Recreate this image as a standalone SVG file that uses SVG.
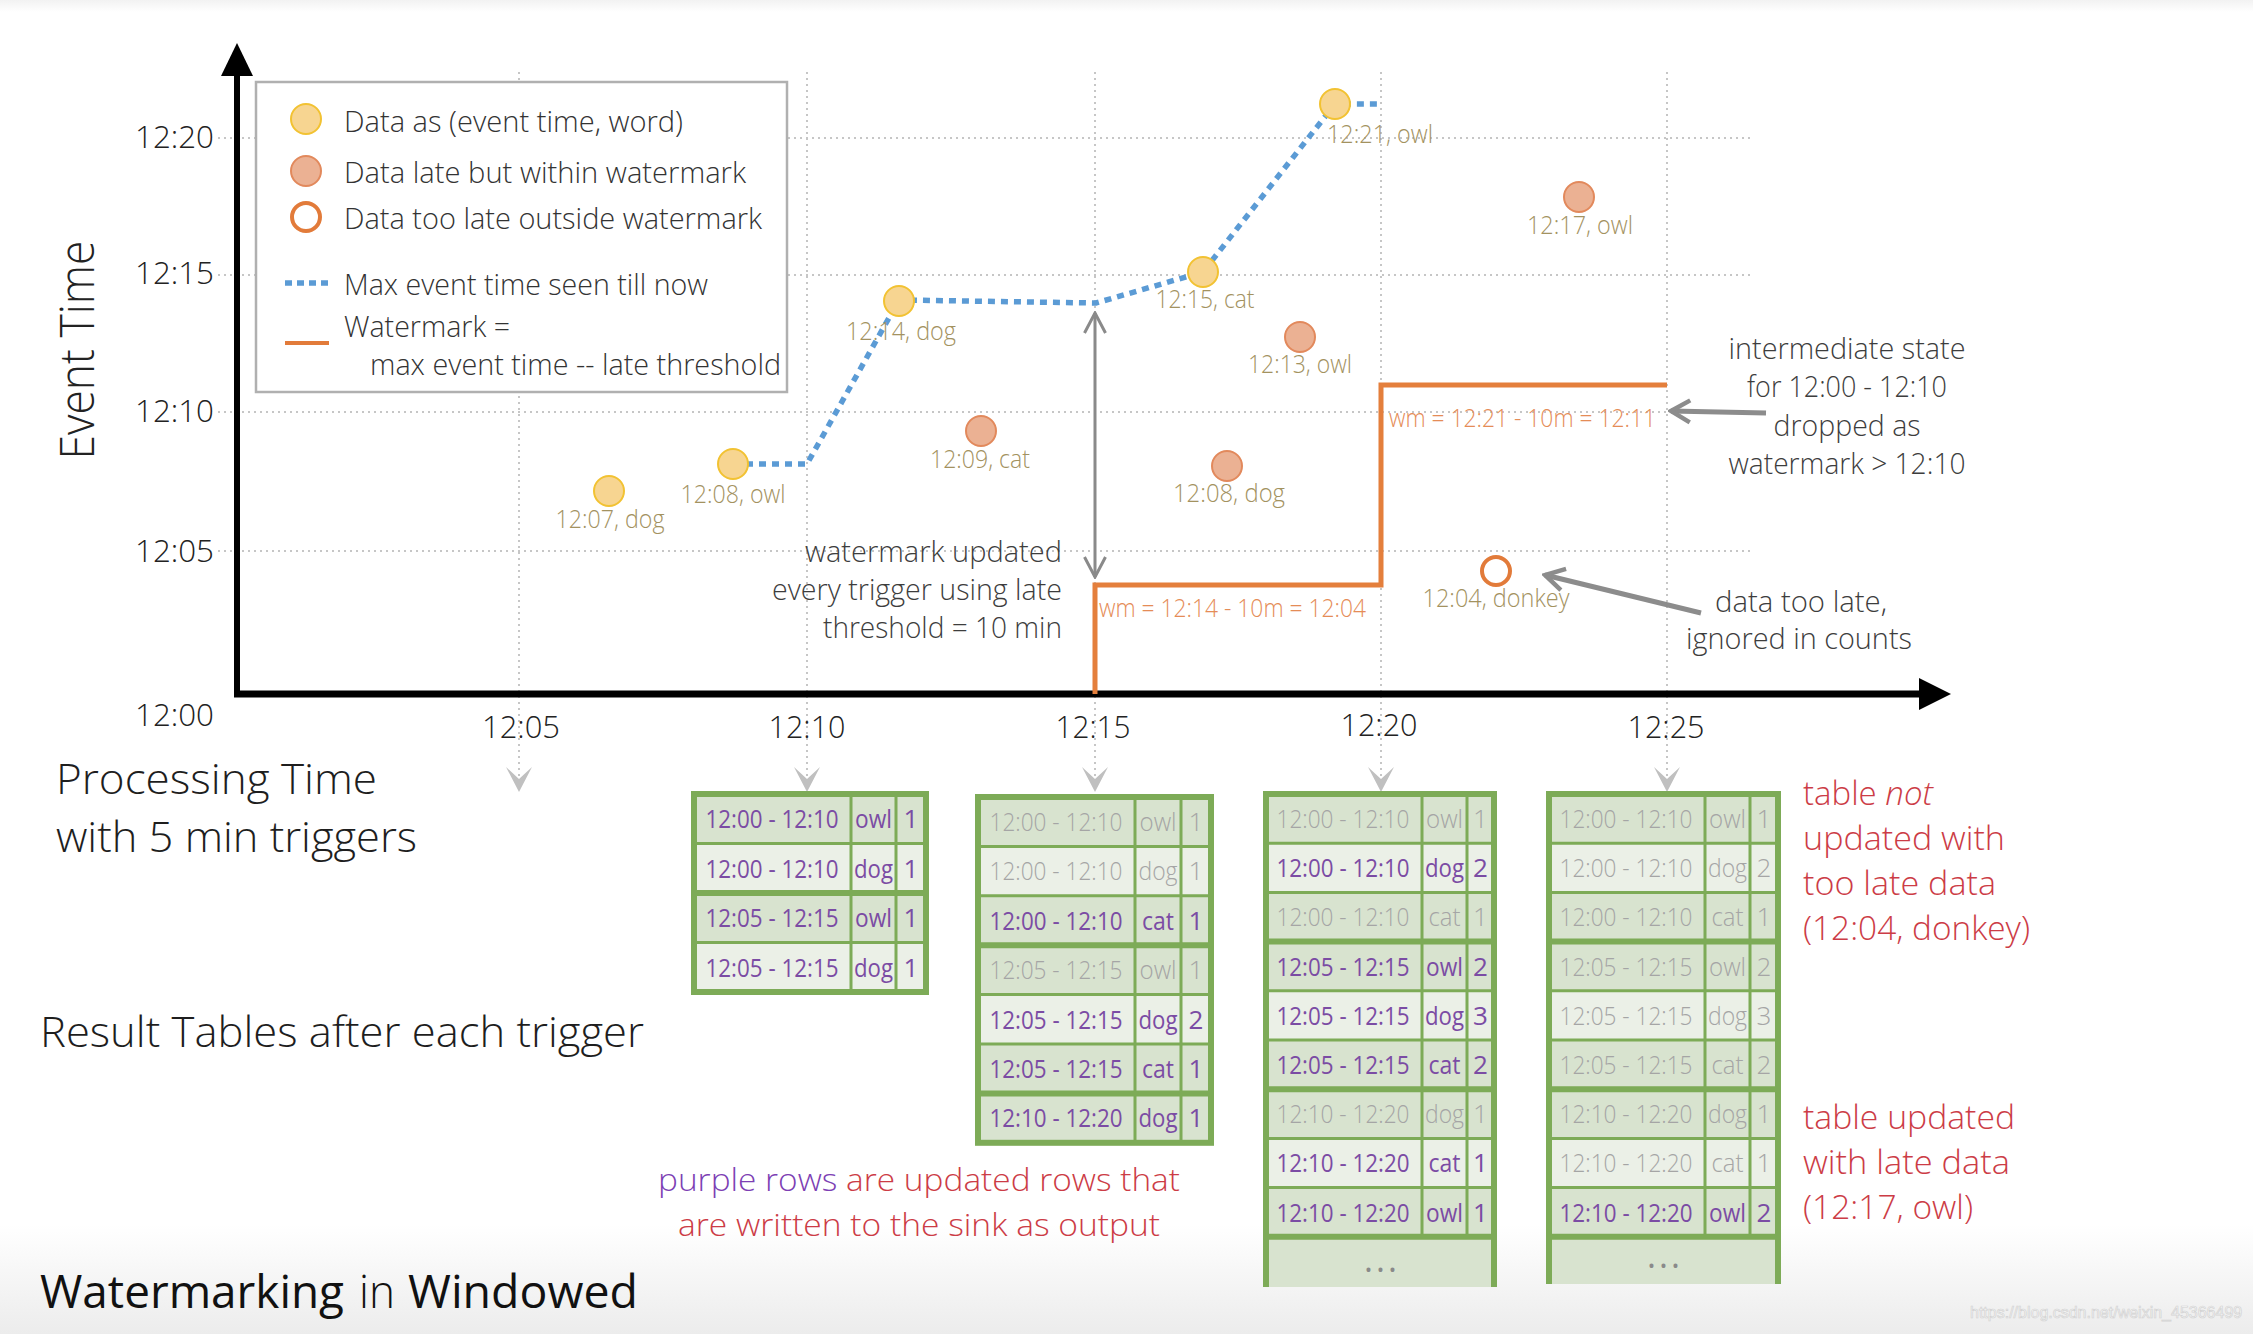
<svg xmlns="http://www.w3.org/2000/svg" width="2253" height="1334" viewBox="0 0 2253 1334">
<style>
text { font-family: 'Open Sans','Noto Sans','DejaVu Sans',sans-serif; font-weight:300; }
.ax { font-size:32px; fill:#222; }
.lg { font-size:30px; fill:#333; }
.dl { font-size:25px; fill:#a3925f; text-anchor:middle; }
.wm { font-size:25px; fill:#e58c57; }
.an { font-size:30px; fill:#3d3d3d; }
.big { font-size:43px; fill:#1e1e1e; }
.red { font-size:33px; fill:#cc3c46; }
.tp { font-size:26px; fill:#7b4ca4; font-weight:400; text-anchor:middle; }
.tg { font-size:26px; fill:#a5a5a5; font-weight:300; text-anchor:middle; }
.c { text-anchor:middle; }
.e { text-anchor:end; }
.dots { font-size:34px; fill:#8a8a8a; text-anchor:middle; letter-spacing:3px; font-weight:400; }
.grid { stroke:#c6c6c6; stroke-width:2; stroke-dasharray:2 4; fill:none; }
.yel { fill:#f7d591; stroke:#f2c232; stroke-width:2; }
.sal { fill:#ebb193; stroke:#e2895c; stroke-width:2; }
.ring { fill:#fff; stroke:#e27b3a; stroke-width:4; }
.rd { fill:#d8e3cf; }
.rl { fill:#ebf0e7; }
.ln { stroke:#7dab57; stroke-width:3; fill:none; }
.lnb { stroke:#7dab57; stroke-width:6; fill:none; }
</style>
<defs>
  <linearGradient id="foot" x1="0" y1="0" x2="0" y2="1">
    <stop offset="0" stop-color="#ffffff"/>
    <stop offset="1" stop-color="#ececec"/>
  </linearGradient>
  <linearGradient id="head" x1="0" y1="0" x2="0" y2="1">
    <stop offset="0" stop-color="#f2f2f2"/>
    <stop offset="1" stop-color="#ffffff"/>
  </linearGradient>
  <path id="garrow" d="M-13,-25 L0,-13 L13,-25 L0,0 Z" fill="#c0c0c0"/>
  <marker id="chevS" viewBox="0 0 24 24" refX="22" refY="12" markerWidth="24" markerHeight="24" markerUnits="userSpaceOnUse" orient="auto-start-reverse">
    <path d="M2,1.5 L22,12 L2,22.5" fill="none" stroke="#8a8a8a" stroke-width="3"/>
  </marker>
  <marker id="chevB" viewBox="0 0 26 28" refX="23" refY="14" markerWidth="26" markerHeight="28" markerUnits="userSpaceOnUse" orient="auto">
    <path d="M4,3 L23,14 L4,25" fill="none" stroke="#8c8c8c" stroke-width="4.5"/>
  </marker>
</defs>

<rect x="0" y="0" width="2253" height="1334" fill="#fff"/>
<rect x="0" y="0" width="2253" height="12" fill="url(#head)"/>
<rect x="0" y="1225" width="2253" height="109" fill="url(#foot)"/>

<!-- grid -->
<g id="grid">
  <path class="grid" d="M218,138 H1752 M218,275 H1752 M218,412 H1752 M218,551 H1752"/>
  <path class="grid" d="M519,72 V786 M807,72 V786 M1095,72 V786 M1381,72 V786 M1667,72 V786"/>
  <use href="#garrow" x="519" y="792"/>
  <use href="#garrow" x="807" y="792"/>
  <use href="#garrow" x="1095" y="792"/>
  <use href="#garrow" x="1381" y="792"/>
  <use href="#garrow" x="1667" y="792"/>
</g>

<!-- axes -->
<g id="axes">
  <line x1="237" y1="697" x2="237" y2="72" stroke="#000" stroke-width="6"/>
  <polygon points="221,76 237,43 253,76" fill="#000"/>
  <line x1="234" y1="694" x2="1922" y2="694" stroke="#000" stroke-width="7"/>
  <polygon points="1919,678 1951,694 1919,710" fill="#000"/>
  <text class="ax e" x="214" y="148" textLength="79" lengthAdjust="spacingAndGlyphs">12:20</text>
  <text class="ax e" x="214" y="284" textLength="79" lengthAdjust="spacingAndGlyphs">12:15</text>
  <text class="ax e" x="214" y="422" textLength="79" lengthAdjust="spacingAndGlyphs">12:10</text>
  <text class="ax e" x="214" y="562" textLength="79" lengthAdjust="spacingAndGlyphs">12:05</text>
  <text class="ax e" x="214" y="726" textLength="79" lengthAdjust="spacingAndGlyphs">12:00</text>
  <text class="ax c" x="521" y="738" textLength="78" lengthAdjust="spacingAndGlyphs">12:05</text>
  <text class="ax c" x="807" y="738" textLength="77" lengthAdjust="spacingAndGlyphs">12:10</text>
  <text class="ax c" x="1093" y="738" textLength="75" lengthAdjust="spacingAndGlyphs">12:15</text>
  <text class="ax c" x="1379" y="736" textLength="77" lengthAdjust="spacingAndGlyphs">12:20</text>
  <text class="ax c" x="1666" y="738" textLength="77" lengthAdjust="spacingAndGlyphs">12:25</text>
  <text x="0" y="0" transform="translate(94,350) rotate(-90)" style="font-size:48px;fill:#222" text-anchor="middle" textLength="219" lengthAdjust="spacingAndGlyphs">Event Time</text>
</g>

<!-- legend -->
<g id="legend">
  <rect x="256" y="82" width="531" height="310" fill="#fff" stroke="#b0b0b0" stroke-width="2.5"/>
  <circle class="yel" cx="306" cy="119" r="15"/>
  <circle class="sal" cx="306" cy="171" r="15"/>
  <circle class="ring" cx="306" cy="217" r="14"/>
  <line x1="285" y1="283" x2="329" y2="283" stroke="#5b9bd5" stroke-width="5.5" stroke-dasharray="7 5"/>
  <line x1="285" y1="343" x2="329" y2="343" stroke="#e27b3a" stroke-width="4"/>
  <text class="lg" x="344" y="132" textLength="339" lengthAdjust="spacingAndGlyphs">Data as (event time, word)</text>
  <text class="lg" x="344" y="183" textLength="402" lengthAdjust="spacingAndGlyphs">Data late but within watermark</text>
  <text class="lg" x="344" y="229" textLength="418" lengthAdjust="spacingAndGlyphs">Data too late outside watermark</text>
  <text class="lg" x="344" y="295" textLength="364" lengthAdjust="spacingAndGlyphs">Max event time seen till now</text>
  <text class="lg" x="344" y="337" textLength="166" lengthAdjust="spacingAndGlyphs">Watermark =</text>
  <text class="lg" x="370" y="375" textLength="411" lengthAdjust="spacingAndGlyphs">max event time -- late threshold</text>
</g>

<!-- connectors: max event time line, watermark line, arrows -->
<g id="connectors">
  <polyline points="733,464 807,464 899,300 1096,303 1203,272 1335,104 1380,104" fill="none" stroke="#5b9bd5" stroke-width="5.5" stroke-dasharray="7 6"/>
  <polyline points="1095,694 1095,585 1381,585 1381,385 1667,385" fill="none" stroke="#e47f3c" stroke-width="5"/>
  <line x1="1095" y1="313" x2="1095" y2="577" stroke="#8a8a8a" stroke-width="3" marker-start="url(#chevS)" marker-end="url(#chevS)"/>
  <line x1="1766" y1="413" x2="1671" y2="411" stroke="#8c8c8c" stroke-width="5" marker-end="url(#chevB)"/>
  <line x1="1701" y1="613" x2="1545" y2="575" stroke="#8c8c8c" stroke-width="5" marker-end="url(#chevB)"/>
</g>

<!-- data points -->
<g id="point-1207-dog"><circle class="yel" cx="609" cy="491" r="15"/><text class="dl" x="610" y="528" textLength="109" lengthAdjust="spacingAndGlyphs">12:07, dog</text></g>
<g id="point-1208-owl"><circle class="yel" cx="733" cy="464" r="15"/><text class="dl" x="733" y="503" textLength="105" lengthAdjust="spacingAndGlyphs">12:08, owl</text></g>
<g id="point-1214-dog"><circle class="yel" cx="899" cy="301" r="15"/><text class="dl" x="901" y="340" textLength="110" lengthAdjust="spacingAndGlyphs">12:14, dog</text></g>
<g id="point-1209-cat"><circle class="sal" cx="981" cy="431" r="15"/><text class="dl" x="980" y="468" textLength="100" lengthAdjust="spacingAndGlyphs">12:09, cat</text></g>
<g id="point-1215-cat"><circle class="yel" cx="1203" cy="272" r="15"/><text class="dl" x="1205" y="308" textLength="99" lengthAdjust="spacingAndGlyphs">12:15, cat</text></g>
<g id="point-1221-owl"><circle class="yel" cx="1335" cy="104" r="15"/><text class="dl" x="1380" y="143" textLength="106" lengthAdjust="spacingAndGlyphs">12:21, owl</text></g>
<g id="point-1213-owl"><circle class="sal" cx="1300" cy="337" r="15"/><text class="dl" x="1300" y="373" textLength="104" lengthAdjust="spacingAndGlyphs">12:13, owl</text></g>
<g id="point-1208-dog"><circle class="sal" cx="1227" cy="466" r="15"/><text class="dl" x="1229" y="502" textLength="112" lengthAdjust="spacingAndGlyphs">12:08, dog</text></g>
<g id="point-1204-donkey"><circle class="ring" cx="1496" cy="571" r="14"/><text class="dl" x="1496" y="607" textLength="147" lengthAdjust="spacingAndGlyphs">12:04, donkey</text></g>
<g id="point-1217-owl"><circle class="sal" cx="1579" cy="197" r="15"/><text class="dl" x="1580" y="234" textLength="106" lengthAdjust="spacingAndGlyphs">12:17, owl</text></g>

<!-- watermark labels -->
<g id="wm-labels">
  <text class="wm" x="1099" y="617" textLength="267" lengthAdjust="spacingAndGlyphs">wm = 12:14 - 10m = 12:04</text>
  <text class="wm" x="1389" y="427" textLength="267" lengthAdjust="spacingAndGlyphs">wm = 12:21 - 10m = 12:11</text>
</g>

<!-- annotations -->
<g id="note-watermark-updated">
  <text class="an e" x="1062" y="562" textLength="257" lengthAdjust="spacingAndGlyphs">watermark updated</text>
  <text class="an e" x="1062" y="600" textLength="290" lengthAdjust="spacingAndGlyphs">every trigger using late</text>
  <text class="an e" x="1062" y="638" textLength="239" lengthAdjust="spacingAndGlyphs">threshold = 10 min</text>
</g>
<g id="note-intermediate">
  <text class="an c" x="1847" y="359" textLength="237" lengthAdjust="spacingAndGlyphs">intermediate state</text>
  <text class="an c" x="1847" y="397" textLength="200" lengthAdjust="spacingAndGlyphs">for 12:00 - 12:10</text>
  <text class="an c" x="1847" y="436" textLength="147" lengthAdjust="spacingAndGlyphs">dropped as</text>
  <text class="an c" x="1847" y="474" textLength="237" lengthAdjust="spacingAndGlyphs">watermark &gt; 12:10</text>
</g>
<g id="note-too-late">
  <text class="an c" x="1801" y="612" textLength="172" lengthAdjust="spacingAndGlyphs">data too late,</text>
  <text class="an c" x="1799" y="649" textLength="226" lengthAdjust="spacingAndGlyphs">ignored in counts</text>
</g>

<g id="titles">
  <text class="big" x="56" y="794" textLength="321" lengthAdjust="spacingAndGlyphs">Processing Time</text>
  <text class="big" x="56" y="852" textLength="361" lengthAdjust="spacingAndGlyphs">with 5 min triggers</text>
  <text class="big" x="40" y="1047" textLength="604" lengthAdjust="spacingAndGlyphs">Result Tables after each trigger</text>
  <text y="1308" style="font-size:46px;fill:#111"><tspan x="40" font-weight="400" textLength="304" lengthAdjust="spacingAndGlyphs">Watermarking</tspan><tspan x="359" textLength="36" lengthAdjust="spacingAndGlyphs">in</tspan><tspan x="408" font-weight="400" textLength="230" lengthAdjust="spacingAndGlyphs">Windowed</tspan></text>
</g>

<g id="note-purple">
  <text style="font-size:32px" x="658" y="1191" textLength="522" lengthAdjust="spacingAndGlyphs"><tspan fill="#7d3fb4">purple rows</tspan><tspan fill="#cc3c46"> are updated rows that</tspan></text>
  <text style="font-size:32px;fill:#cc3c46" x="678" y="1236" textLength="482" lengthAdjust="spacingAndGlyphs">are written to the sink as output</text>
</g>

<g id="note-not-updated">
  <text class="red" x="1803" y="805">table <tspan font-style="italic">not</tspan></text>
  <text class="red" x="1803" y="850" textLength="202" lengthAdjust="spacingAndGlyphs">updated with</text>
  <text class="red" x="1803" y="895" textLength="193" lengthAdjust="spacingAndGlyphs">too late data</text>
  <text class="red" x="1803" y="940" textLength="227" lengthAdjust="spacingAndGlyphs">(12:04, donkey)</text>
</g>
<g id="note-updated">
  <text class="red" x="1803" y="1129" textLength="212" lengthAdjust="spacingAndGlyphs">table updated</text>
  <text class="red" x="1803" y="1174" textLength="207" lengthAdjust="spacingAndGlyphs">with late data</text>
  <text class="red" x="1803" y="1219" textLength="170" lengthAdjust="spacingAndGlyphs">(12:17, owl)</text>
</g>

<!-- Table after trigger 12:10 -->
<g id="table-1210">
  <rect class="rd" x="694" y="794" width="232" height="49.5"/>
  <rect class="rl" x="694" y="843.5" width="232" height="49.5"/>
  <rect class="rd" x="694" y="893" width="232" height="49.5"/>
  <rect class="rl" x="694" y="942.5" width="232" height="49.5"/>
  <path class="ln" d="M851,794 V992 M896,794 V992 M694,843.5 H926 M694,942.5 H926"/>
  <path class="lnb" d="M694,893 H926"/>
  <rect class="lnb" x="694" y="794" width="232" height="198"/>
  <text class="tp" y="828"><tspan x="772" textLength="133" lengthAdjust="spacingAndGlyphs">12:00 - 12:10</tspan><tspan x="873.5" textLength="37" lengthAdjust="spacingAndGlyphs">owl</tspan><tspan x="911">1</tspan></text>
  <text class="tp" y="877.5"><tspan x="772" textLength="133" lengthAdjust="spacingAndGlyphs">12:00 - 12:10</tspan><tspan x="873.5" textLength="39" lengthAdjust="spacingAndGlyphs">dog</tspan><tspan x="911">1</tspan></text>
  <text class="tp" y="927"><tspan x="772" textLength="133" lengthAdjust="spacingAndGlyphs">12:05 - 12:15</tspan><tspan x="873.5" textLength="37" lengthAdjust="spacingAndGlyphs">owl</tspan><tspan x="911">1</tspan></text>
  <text class="tp" y="976.5"><tspan x="772" textLength="133" lengthAdjust="spacingAndGlyphs">12:05 - 12:15</tspan><tspan x="873.5" textLength="39" lengthAdjust="spacingAndGlyphs">dog</tspan><tspan x="911">1</tspan></text>
</g>

<!-- Table after trigger 12:15 -->
<g id="table-1215">
  <rect class="rd" x="978" y="797" width="233" height="49.4"/>
  <rect class="rl" x="978" y="846.4" width="233" height="49.4"/>
  <rect class="rd" x="978" y="895.8" width="233" height="49.4"/>
  <rect class="rd" x="978" y="945.2" width="233" height="49.4"/>
  <rect class="rl" x="978" y="994.6" width="233" height="49.4"/>
  <rect class="rd" x="978" y="1044" width="233" height="49.4"/>
  <rect class="rd" x="978" y="1093.4" width="233" height="49.4"/>
  <path class="ln" d="M1135,797 V1142.8 M1181,797 V1142.8 M978,846.4 H1211 M978,895.8 H1211 M978,994.6 H1211 M978,1044 H1211"/>
  <path class="lnb" d="M978,945.2 H1211 M978,1093.4 H1211"/>
  <rect class="lnb" x="978" y="797" width="233" height="345.8"/>
  <text class="tg" y="831"><tspan x="1056" textLength="133" lengthAdjust="spacingAndGlyphs">12:00 - 12:10</tspan><tspan x="1158" textLength="37" lengthAdjust="spacingAndGlyphs">owl</tspan><tspan x="1196">1</tspan></text>
  <text class="tg" y="880.4"><tspan x="1056" textLength="133" lengthAdjust="spacingAndGlyphs">12:00 - 12:10</tspan><tspan x="1158" textLength="39" lengthAdjust="spacingAndGlyphs">dog</tspan><tspan x="1196">1</tspan></text>
  <text class="tp" y="929.8"><tspan x="1056" textLength="133" lengthAdjust="spacingAndGlyphs">12:00 - 12:10</tspan><tspan x="1158" textLength="32" lengthAdjust="spacingAndGlyphs">cat</tspan><tspan x="1196">1</tspan></text>
  <text class="tg" y="979.2"><tspan x="1056" textLength="133" lengthAdjust="spacingAndGlyphs">12:05 - 12:15</tspan><tspan x="1158" textLength="37" lengthAdjust="spacingAndGlyphs">owl</tspan><tspan x="1196">1</tspan></text>
  <text class="tp" y="1028.6"><tspan x="1056" textLength="133" lengthAdjust="spacingAndGlyphs">12:05 - 12:15</tspan><tspan x="1158" textLength="39" lengthAdjust="spacingAndGlyphs">dog</tspan><tspan x="1196">2</tspan></text>
  <text class="tp" y="1078"><tspan x="1056" textLength="133" lengthAdjust="spacingAndGlyphs">12:05 - 12:15</tspan><tspan x="1158" textLength="32" lengthAdjust="spacingAndGlyphs">cat</tspan><tspan x="1196">1</tspan></text>
  <text class="tp" y="1127.4"><tspan x="1056" textLength="133" lengthAdjust="spacingAndGlyphs">12:10 - 12:20</tspan><tspan x="1158" textLength="39" lengthAdjust="spacingAndGlyphs">dog</tspan><tspan x="1196">1</tspan></text>
</g>

<!-- Table after trigger 12:20 -->
<g id="table-1220">
  <rect class="rd" x="1266" y="794" width="228" height="49.2"/>
  <rect class="rl" x="1266" y="843.2" width="228" height="49.2"/>
  <rect class="rd" x="1266" y="892.4" width="228" height="49.2"/>
  <rect class="rd" x="1266" y="941.6" width="228" height="49.2"/>
  <rect class="rl" x="1266" y="990.8" width="228" height="49.2"/>
  <rect class="rd" x="1266" y="1040" width="228" height="49.2"/>
  <rect class="rd" x="1266" y="1089.2" width="228" height="49.2"/>
  <rect class="rl" x="1266" y="1138.4" width="228" height="49.2"/>
  <rect class="rd" x="1266" y="1187.6" width="228" height="49.2"/>
  <rect class="rd" x="1266" y="1236.8" width="228" height="50.2"/>
  <path class="ln" d="M1422,794 V1236.8 M1467,794 V1236.8 M1266,843.2 H1494 M1266,892.4 H1494 M1266,990.8 H1494 M1266,1040 H1494 M1266,1138.4 H1494 M1266,1187.6 H1494"/>
  <path class="lnb" d="M1266,941.6 H1494 M1266,1089.2 H1494 M1266,1236.8 H1494 M1266,1287 V794 H1494 V1287"/>
  <text class="tg" y="828"><tspan x="1343" textLength="133" lengthAdjust="spacingAndGlyphs">12:00 - 12:10</tspan><tspan x="1444.5" textLength="37" lengthAdjust="spacingAndGlyphs">owl</tspan><tspan x="1480.5">1</tspan></text>
  <text class="tp" y="877.2"><tspan x="1343" textLength="133" lengthAdjust="spacingAndGlyphs">12:00 - 12:10</tspan><tspan x="1444.5" textLength="39" lengthAdjust="spacingAndGlyphs">dog</tspan><tspan x="1480.5">2</tspan></text>
  <text class="tg" y="926.4"><tspan x="1343" textLength="133" lengthAdjust="spacingAndGlyphs">12:00 - 12:10</tspan><tspan x="1444.5" textLength="32" lengthAdjust="spacingAndGlyphs">cat</tspan><tspan x="1480.5">1</tspan></text>
  <text class="tp" y="975.6"><tspan x="1343" textLength="133" lengthAdjust="spacingAndGlyphs">12:05 - 12:15</tspan><tspan x="1444.5" textLength="37" lengthAdjust="spacingAndGlyphs">owl</tspan><tspan x="1480.5">2</tspan></text>
  <text class="tp" y="1024.8"><tspan x="1343" textLength="133" lengthAdjust="spacingAndGlyphs">12:05 - 12:15</tspan><tspan x="1444.5" textLength="39" lengthAdjust="spacingAndGlyphs">dog</tspan><tspan x="1480.5">3</tspan></text>
  <text class="tp" y="1074"><tspan x="1343" textLength="133" lengthAdjust="spacingAndGlyphs">12:05 - 12:15</tspan><tspan x="1444.5" textLength="32" lengthAdjust="spacingAndGlyphs">cat</tspan><tspan x="1480.5">2</tspan></text>
  <text class="tg" y="1123.2"><tspan x="1343" textLength="133" lengthAdjust="spacingAndGlyphs">12:10 - 12:20</tspan><tspan x="1444.5" textLength="39" lengthAdjust="spacingAndGlyphs">dog</tspan><tspan x="1480.5">1</tspan></text>
  <text class="tp" y="1172.4"><tspan x="1343" textLength="133" lengthAdjust="spacingAndGlyphs">12:10 - 12:20</tspan><tspan x="1444.5" textLength="32" lengthAdjust="spacingAndGlyphs">cat</tspan><tspan x="1480.5">1</tspan></text>
  <text class="tp" y="1221.6"><tspan x="1343" textLength="133" lengthAdjust="spacingAndGlyphs">12:10 - 12:20</tspan><tspan x="1444.5" textLength="37" lengthAdjust="spacingAndGlyphs">owl</tspan><tspan x="1480.5">1</tspan></text>
  <text class="dots" x="1382" y="1272">...</text>
</g>

<!-- Table after trigger 12:25 -->
<g id="table-1225">
  <rect class="rd" x="1549" y="794" width="229" height="49.2"/>
  <rect class="rl" x="1549" y="843.2" width="229" height="49.2"/>
  <rect class="rd" x="1549" y="892.4" width="229" height="49.2"/>
  <rect class="rd" x="1549" y="941.6" width="229" height="49.2"/>
  <rect class="rl" x="1549" y="990.8" width="229" height="49.2"/>
  <rect class="rd" x="1549" y="1040" width="229" height="49.2"/>
  <rect class="rd" x="1549" y="1089.2" width="229" height="49.2"/>
  <rect class="rl" x="1549" y="1138.4" width="229" height="49.2"/>
  <rect class="rd" x="1549" y="1187.6" width="229" height="49.2"/>
  <rect class="rd" x="1549" y="1236.8" width="229" height="47.2"/>
  <path class="ln" d="M1705,794 V1236.8 M1750,794 V1236.8 M1549,843.2 H1778 M1549,892.4 H1778 M1549,990.8 H1778 M1549,1040 H1778 M1549,1138.4 H1778 M1549,1187.6 H1778"/>
  <path class="lnb" d="M1549,941.6 H1778 M1549,1089.2 H1778 M1549,1236.8 H1778 M1549,1284 V794 H1778 V1284"/>
  <text class="tg" y="828"><tspan x="1626" textLength="133" lengthAdjust="spacingAndGlyphs">12:00 - 12:10</tspan><tspan x="1727.5" textLength="37" lengthAdjust="spacingAndGlyphs">owl</tspan><tspan x="1764">1</tspan></text>
  <text class="tg" y="877.2"><tspan x="1626" textLength="133" lengthAdjust="spacingAndGlyphs">12:00 - 12:10</tspan><tspan x="1727.5" textLength="39" lengthAdjust="spacingAndGlyphs">dog</tspan><tspan x="1764">2</tspan></text>
  <text class="tg" y="926.4"><tspan x="1626" textLength="133" lengthAdjust="spacingAndGlyphs">12:00 - 12:10</tspan><tspan x="1727.5" textLength="32" lengthAdjust="spacingAndGlyphs">cat</tspan><tspan x="1764">1</tspan></text>
  <text class="tg" y="975.6"><tspan x="1626" textLength="133" lengthAdjust="spacingAndGlyphs">12:05 - 12:15</tspan><tspan x="1727.5" textLength="37" lengthAdjust="spacingAndGlyphs">owl</tspan><tspan x="1764">2</tspan></text>
  <text class="tg" y="1024.8"><tspan x="1626" textLength="133" lengthAdjust="spacingAndGlyphs">12:05 - 12:15</tspan><tspan x="1727.5" textLength="39" lengthAdjust="spacingAndGlyphs">dog</tspan><tspan x="1764">3</tspan></text>
  <text class="tg" y="1074"><tspan x="1626" textLength="133" lengthAdjust="spacingAndGlyphs">12:05 - 12:15</tspan><tspan x="1727.5" textLength="32" lengthAdjust="spacingAndGlyphs">cat</tspan><tspan x="1764">2</tspan></text>
  <text class="tg" y="1123.2"><tspan x="1626" textLength="133" lengthAdjust="spacingAndGlyphs">12:10 - 12:20</tspan><tspan x="1727.5" textLength="39" lengthAdjust="spacingAndGlyphs">dog</tspan><tspan x="1764">1</tspan></text>
  <text class="tg" y="1172.4"><tspan x="1626" textLength="133" lengthAdjust="spacingAndGlyphs">12:10 - 12:20</tspan><tspan x="1727.5" textLength="32" lengthAdjust="spacingAndGlyphs">cat</tspan><tspan x="1764">1</tspan></text>
  <text class="tp" y="1221.6"><tspan x="1626" textLength="133" lengthAdjust="spacingAndGlyphs">12:10 - 12:20</tspan><tspan x="1727.5" textLength="37" lengthAdjust="spacingAndGlyphs">owl</tspan><tspan x="1764">2</tspan></text>
  <text class="dots" x="1665" y="1268">...</text>
</g>

<text x="1970" y="1318" style="font-family:'Liberation Sans',Arial,sans-serif;font-size:16px;font-weight:400;fill:#fafafa;stroke:#d2d2d2;stroke-width:0.7">https://blog.csdn.net/weixin_45366499</text>
</svg>
